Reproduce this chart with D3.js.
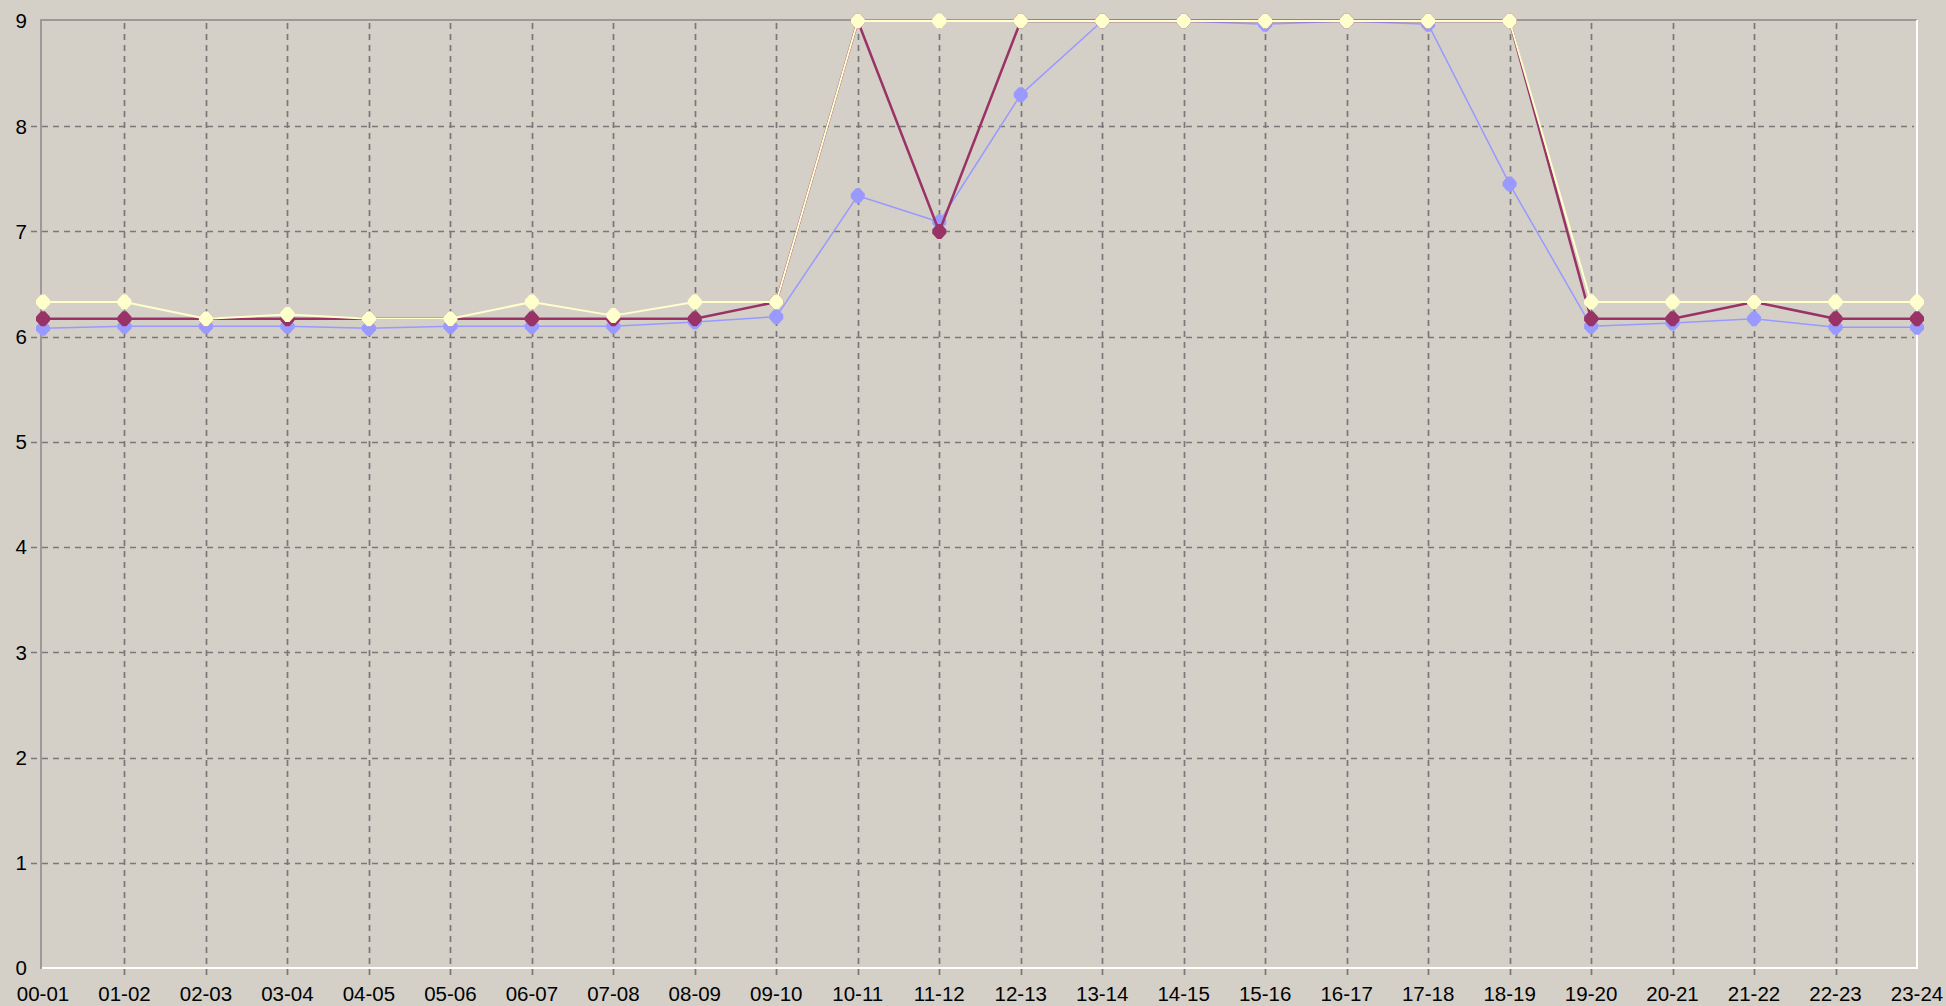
<!DOCTYPE html>
<html>
<head>
<meta charset="utf-8">
<script src="https://cdn.jsdelivr.net/npm/d3@7"></script>
<style>
  html, body { margin: 0; padding: 0; background: #d4d0c8; }
  svg { display: block; }
  text { font-family: "Liberation Sans", Arial, sans-serif; font-size: 20.5px; fill: #000; }
</style>
</head>
<body>
<svg id="chart" width="1946" height="1006"></svg>
<script>
const categories = ["00-01","01-02","02-03","03-04","04-05","05-06","06-07","07-08","08-09","09-10","10-11","11-12",
                    "12-13","13-14","14-15","15-16","16-17","17-18","18-19","19-20","20-21","21-22","22-23","23-24"];
const seriesBlue   = [6.08,6.10,6.10,6.10,6.08,6.10,6.10,6.10,6.14,6.19,7.34,7.09,8.30,9,9,8.97,9,8.97,7.45,6.10,6.13,6.17,6.09,6.09];
const seriesMaroon = [6.17,6.17,6.17,6.17,6.17,6.17,6.17,6.17,6.17,6.33,9,7,9,9,9,9,9,9,9,6.17,6.17,6.33,6.17,6.17];
const seriesYellow = [6.33,6.33,6.17,6.21,6.17,6.17,6.33,6.20,6.33,6.33,9,9,9,9,9,9,9,9,9,6.33,6.33,6.33,6.33,6.33];
const yTicks = [0,1,2,3,4,5,6,7,8,9];

const series = [
  { name: "A", values: seriesBlue,   color: "#9999ff", width: 1.5 },
  { name: "B", values: seriesMaroon, color: "#993366", width: 2.5 },
  { name: "C", values: seriesYellow, color: "#ffffcc", width: 2 }
];

const svg = d3.select("#chart");
const plotLeft = 41, plotRight = 1917, plotTop = 20, plotBottom = 968;

const x = d3.scalePoint().domain(categories).range([43, 1917]);
const y = d3.scaleLinear().domain([0, 9]).range([968, 21]);

svg.append("rect").attr("width", 1946).attr("height", 1006).attr("fill", "#d4d0c8");

// horizontal grid lines (with tick stubs to the left)
svg.append("g").selectAll("line").data(yTicks.filter(v => v > 0 && v < 9)).join("line")
  .attr("x1", 31).attr("x2", plotRight - 3)
  .attr("y1", d => Math.round(y(d)) + 0.5).attr("y2", d => Math.round(y(d)) + 0.5)
  .attr("stroke", "#787878").attr("stroke-width", 1.7).attr("stroke-dasharray", "6,5");

// vertical grid lines (with tick stubs below)
svg.append("g").selectAll("line").data(categories.slice(1, -1)).join("line")
  .attr("x1", d => Math.round(x(d)) + 0.5).attr("x2", d => Math.round(x(d)) + 0.5)
  .attr("y1", plotTop + 3).attr("y2", plotBottom + 9)
  .attr("stroke", "#787878").attr("stroke-width", 1.7).attr("stroke-dasharray", "6,5");

// sunken frame
svg.append("line").attr("x1", plotLeft).attr("x2", plotRight).attr("y1", plotTop).attr("y2", plotTop)
  .attr("stroke", "#9a9a9a").attr("stroke-width", 2);
svg.append("line").attr("x1", plotLeft).attr("x2", plotLeft).attr("y1", plotTop - 1).attr("y2", plotBottom + 1)
  .attr("stroke", "#9a9a9a").attr("stroke-width", 2);
svg.append("line").attr("x1", plotLeft + 1).attr("x2", plotRight + 1).attr("y1", plotBottom).attr("y2", plotBottom)
  .attr("stroke", "#ffffff").attr("stroke-width", 2);
svg.append("line").attr("x1", plotRight).attr("x2", plotRight).attr("y1", plotTop).attr("y2", plotBottom + 1)
  .attr("stroke", "#ffffff").attr("stroke-width", 2);

// y tick labels
svg.append("g").selectAll("text").data(yTicks).join("text")
  .attr("x", 27).attr("y", d => y(d)).attr("dy", "0.36em")
  .attr("text-anchor", "end").text(d => d);

// x tick labels
svg.append("g").selectAll("text").data(categories).join("text")
  .attr("x", d => x(d)).attr("y", 1001)
  .attr("text-anchor", "middle").text(d => d);

// series
const line = d3.line().x((d, i) => x(categories[i])).y(d => y(d));
const marker = "M-2,-7.5L2,-7.5L7,-2L7,2L2,7.5L-2,7.5L-7,2L-7,-2Z";

series.forEach(s => {
  const g = svg.append("g");
  g.append("path").datum(s.values).attr("d", line)
    .attr("fill", "none").attr("stroke", s.color).attr("stroke-width", s.width)
    .attr("stroke-linejoin", "round");
  g.selectAll("path.m").data(s.values).join("path").attr("class", "m")
    .attr("d", marker)
    .attr("transform", (d, i) => `translate(${x(categories[i])},${y(d)})`)
    .attr("fill", s.color);
});
</script>
</body>
</html>
